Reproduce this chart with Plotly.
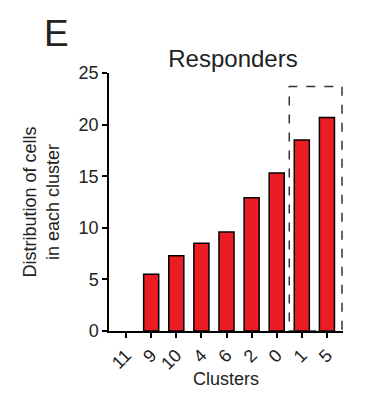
import plotly.graph_objects as go

clusters = ["11", "9", "10", "4", "6", "2", "0", "1", "5"]
values = [0, 5.5, 7.3, 8.5, 9.6, 12.9, 15.3, 18.5, 20.7]
y_ticks = [0, 5, 10, 15, 20, 25]
box_x = [6.5, 8.6]
box_y = [0, 23.7]

FONT = "Liberation Sans, Arial, sans-serif"
TXT = "#222222"

fig = go.Figure()
fig.add_trace(go.Bar(
    x=clusters, y=values, width=0.6,
    marker=dict(color="#ec1c24",
                line=dict(color="black", width=[0 if v == 0 else 1.5 for v in values])),
))

fig.add_shape(type="rect", xref="x", yref="y",
              x0=box_x[0], x1=box_x[1], y0=box_y[0], y1=box_y[1],
              line=dict(color="#333333", width=1.5, dash="dash"))

fig.add_annotation(text="E", xref="paper", yref="paper", x=-0.285, y=1.155,
                   xanchor="left", yanchor="middle", showarrow=False,
                   font=dict(size=37, color=TXT, family=FONT))

fig.update_layout(
    width=375, height=398,
    margin=dict(l=101, r=40, t=65, b=75),
    plot_bgcolor="white", paper_bgcolor="white",
    showlegend=False,
    font=dict(family=FONT, color=TXT),
    title=dict(text="Responders", x=0.6, xanchor="center", y=0.874, yanchor="middle",
               font=dict(size=24, color=TXT, family=FONT)),
    xaxis=dict(type="category", range=[-0.68, 8.64], automargin=False,
               showline=True, linecolor="black", linewidth=1.5,
               ticks="outside", ticklen=5, tickwidth=1.5, tickcolor="black",
               tickangle=-45, tickfont=dict(size=18, color=TXT),
               title=dict(text="Clusters", font=dict(size=18, color=TXT), standoff=0),
               showgrid=False, zeroline=False),
    yaxis=dict(range=[0, 25], tickvals=y_ticks, automargin=False,
               showline=True, linecolor="black", linewidth=1.5,
               ticks="outside", ticklen=5, tickwidth=1.5, tickcolor="black",
               tickfont=dict(size=18, color=TXT),
               title=dict(text="Distribution of cells<br>in each cluster",
                          font=dict(size=18, color=TXT), standoff=14),
               showgrid=False, zeroline=False),
)

fig.write_html("out.html")
